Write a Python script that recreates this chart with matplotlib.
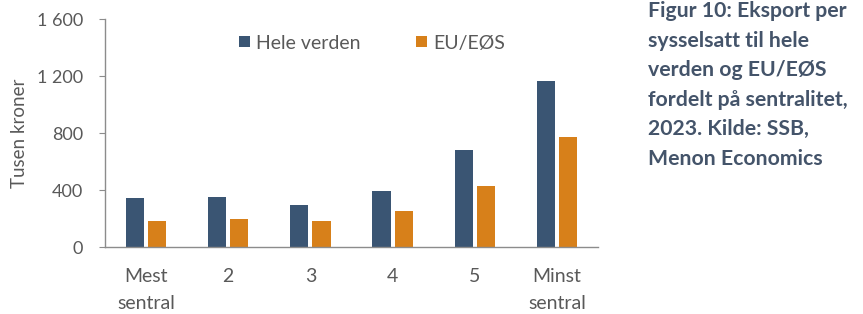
import matplotlib
matplotlib.use("Agg")
import matplotlib.pyplot as plt
import numpy as np

categories = ["Mest\nsentral", "2", "3", "4", "5", "Minst\nsentral"]
hele_verden = [344, 350, 295, 393, 680, 1165]
eu_eos = [182, 196, 182, 253, 428, 772]
yticks = [0, 400, 800, 1200, 1600]
ytick_labels = ["0", "400", "800", "1 200", "1 600"]

BLUE = "#3A5573"
ORANGE = "#D7801A"
GRAY = "#595959"
AXIS = "#8C8C8C"
TITLE_C = "#44546A"

plt.rcParams['font.family'] = ['Lato', 'DejaVu Sans']

fig = plt.figure(figsize=(8.63, 3.14), dpi=100)
ax = fig.add_axes([105/863, 1-247/314, (598-105)/863, (247-19)/314])

x = np.arange(len(categories))
w = 0.22
gap = 0.05
ax.bar(x - w/2 - gap/2, hele_verden, w, color=BLUE, label="Hele verden")
ax.bar(x + w/2 + gap/2, eu_eos, w, color=ORANGE, label="EU/EØS")

ax.set_xlim(-0.5, len(categories) - 0.5)
ax.set_ylim(0, 1600)
ax.set_yticks(yticks)
ax.set_yticklabels(ytick_labels)
ax.set_xticks(x)
ax.set_xticklabels(categories, linespacing=1.75)
for s in ["top", "right"]:
    ax.spines[s].set_visible(False)
for s in ["left", "bottom"]:
    ax.spines[s].set_color(AXIS)
    ax.spines[s].set_linewidth(1.0)
ax.tick_params(axis="y", length=4, color=AXIS, labelsize=13, labelcolor=GRAY, pad=12)
ax.tick_params(axis="x", length=0, labelsize=14, labelcolor=GRAY, pad=15)
ax.set_ylabel("Tusen kroner", fontsize=13.5, color=GRAY, labelpad=6)

leg = ax.legend(loc="center left", bbox_to_anchor=((239-105)/493, (247-43)/228), ncol=2, frameon=False,
                fontsize=14, handlelength=0.55, handleheight=0.55, handletextpad=0.3,
                columnspacing=2.9, labelcolor=GRAY, borderpad=0, borderaxespad=0)

fig.text(648/863, 1-1/314,
         "Figur 10: Eksport per\nsysselsatt til hele\nverden og EU/EØS\nfordelt på sentralitet,\n2023. Kilde: SSB,\nMenon Economics",
         ha="left", va="top", fontsize=15.3, fontweight="bold", color=TITLE_C, linespacing=1.6)

fig.savefig("out.png", dpi=100)
